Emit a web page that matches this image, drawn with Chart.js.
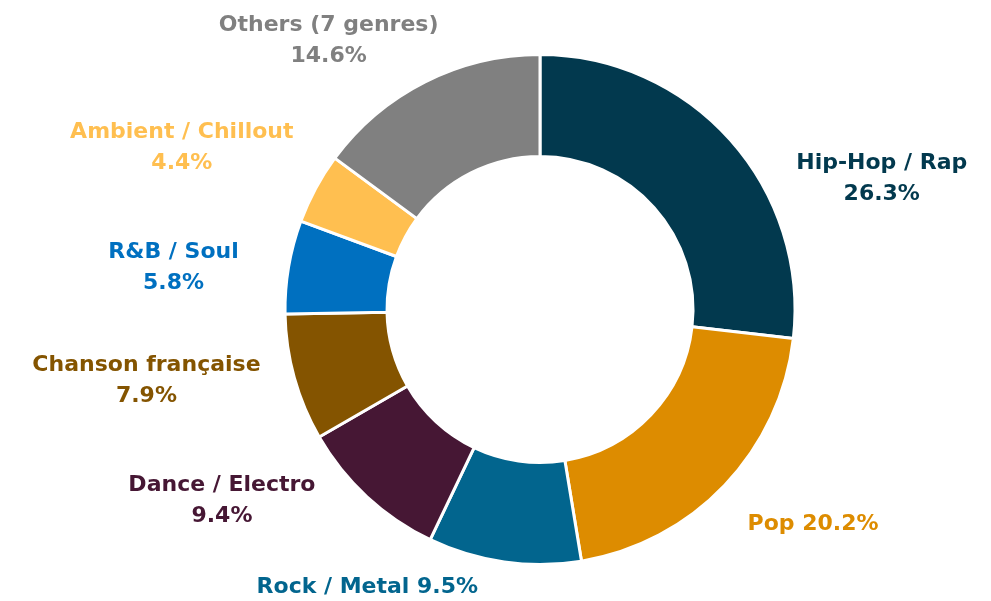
<!DOCTYPE html>
<html>
<head>
<meta charset="utf-8">
<script src="https://cdn.jsdelivr.net/npm/chart.js@4.4.1/dist/chart.umd.min.js"></script>
<style>
  html, body { margin: 0; padding: 0; background: #fff; }
  #wrap { width: 991px; height: 601px; }
</style>
</head>
<body>
<div id="wrap"><canvas id="genres" width="991" height="601"></canvas></div>
<script>
// genres and their share (%)
var genres = ['Hip-Hop / Rap', 'Pop', 'Rock / Metal', 'Dance / Electro', 'Chanson française', 'R&B / Soul', 'Ambient / Chillout', 'Others (7 genres)'];
var shares = [26.3, 20.2, 9.5, 9.4, 7.9, 5.8, 4.4, 14.6];
var colors = ['#02394E', '#DD8C00', '#02658E', '#461734', '#845400', '#0070C0', '#FFBF50', '#808080'];
// single line labels (name and value on one line)
var oneLine = [false, true, true, false, false, false, false, false];

// label nudges from the point just outside each slice
var nudges = [[60, 44], [17, 33], [-25, 17], [-46, -2], [-26, 1], [-42, 2], [-15, -37], [17, -34]];

var labelPlugin = {
  id: 'outLabels',
  afterDatasetsDraw: function(chart) {
    var ctx = chart.ctx;
    var meta = chart.getDatasetMeta(0);
    ctx.save();
    ctx.font = 'bold 22px "DejaVu Sans", sans-serif';
    ctx.textBaseline = 'middle';
    ctx.textAlign = 'center';
    meta.data.forEach(function(arc, i) {
      var p = arc.getProps(['x', 'y', 'startAngle', 'endAngle', 'outerRadius'], true);
      var mid = (p.startAngle + p.endAngle) / 2;
      var r = p.outerRadius + 8;
      var ax = p.x + Math.cos(mid) * r + nudges[i][0];
      var ay = p.y + Math.sin(mid) * r + nudges[i][1];
      var pct = shares[i].toFixed(1) + '%';
      var lines = oneLine[i] ? [genres[i] + ' ' + pct] : [genres[i], pct];
      var w = 0;
      lines.forEach(function(l) { w = Math.max(w, ctx.measureText(l).width); });
      var cx = Math.cos(mid) >= 0 ? ax + w / 2 : ax - w / 2;
      var lh = 31;
      var top = ay - (lines.length - 1) * lh / 2;
      ctx.fillStyle = colors[i];
      lines.forEach(function(l, k) {
        ctx.fillText(l, cx, top + k * lh);
      });
    });
    ctx.restore();
  }
};

var chart = new Chart(document.getElementById('genres').getContext('2d'), {
  type: 'doughnut',
  data: {
    labels: genres,
    datasets: [{
      data: shares,
      backgroundColor: colors,
      borderColor: '#ffffff',
      borderWidth: 3
    }]
  },
  options: {
    responsive: false,
    animation: false,
    cutout: '60%',
    layout: {
      padding: { top: 53, bottom: 35, left: 280, right: 191 }
    },
    plugins: {
      legend: { display: false },
      tooltip: { enabled: false }
    }
  },
  plugins: [labelPlugin]
});
</script>
</body>
</html>
